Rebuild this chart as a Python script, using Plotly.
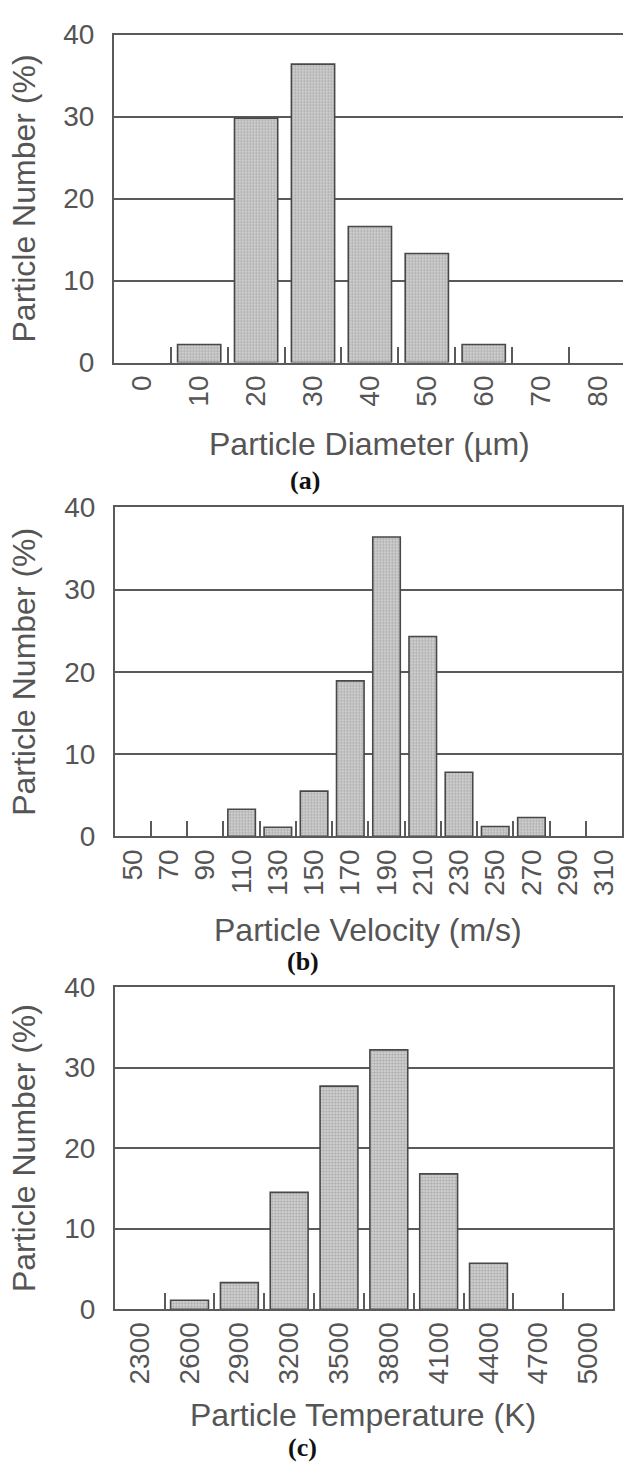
import plotly.graph_objects as go

# ---------------- data ----------------
dia_cats = ["0", "10", "20", "30", "40", "50", "60", "70", "80"]
dia_vals = [0, 2.2, 29.8, 36.4, 16.6, 13.3, 2.2, 0, 0]

vel_cats = ["50", "70", "90", "110", "130", "150", "170", "190", "210",
            "230", "250", "270", "290", "310"]
vel_vals = [0, 0, 0, 3.3, 1.1, 5.5, 18.9, 36.4, 24.3, 7.8, 1.2, 2.3, 0, 0]

temp_cats = ["2300", "2600", "2900", "3200", "3500", "3800", "4100",
             "4400", "4700", "5000"]
temp_vals = [0, 1.1, 3.3, 14.5, 27.7, 32.2, 16.8, 5.7, 0, 0]

y_ticks = [0, 10, 20, 30, 40]

x_titles = ["Particle Diameter (µm)", "Particle Velocity (m/s)",
            "Particle Temperature (K)"]
y_title = "Particle Number (%)"
panel_tags = ["(a)", "(b)", "(c)"]

# ---------------- layout geometry (pixels) ----------------
W, H = 624, 1473
SANS = "Liberation Sans, Arial, Helvetica, sans-serif"
SERIF = "Liberation Serif, Times New Roman, serif"
TXT = "#555555"
LINE = "#5a5a5a"

panels = [
    dict(cats=dia_cats, vals=dia_vals, left=114, right=624, full_right=627,
         top=20, bottom=355, mirror_y=False,
         xt=(370, 438), tag=(305, 475)),
    dict(cats=vel_cats, vals=vel_vals, left=115, right=623, full_right=623,
         top=503, bottom=839, mirror_y=True,
         xt=(369, 935), tag=(303, 967)),
    dict(cats=temp_cats, vals=temp_vals, left=115, right=614, full_right=614,
         top=993, bottom=1322, mirror_y=True,
         xt=(364, 1430), tag=(303, 1463)),
]


def px(x):
    return x / W


def py(y):
    return 1 - y / H


fig = go.Figure()
annotations = []

for i, p in enumerate(panels):
    n = len(p["cats"])
    cw = (p["full_right"] - p["left"]) / n
    hi = (n - 0.5) - (p["full_right"] - p["right"]) / cw
    xa = "x" if i == 0 else f"x{i+1}"
    ya = "y" if i == 0 else f"y{i+1}"
    outline_w = [0 if v == 0 else 1.6 for v in p["vals"]]
    fig.add_trace(go.Bar(
        x=p["cats"], y=p["vals"], xaxis=xa, yaxis=ya,
        marker=dict(
            color="#c8c8c8",
            line=dict(color="#484848", width=outline_w),
            pattern=dict(shape=".", fgcolor="#808080", bgcolor="#d9d9d9",
                         size=3, solidity=0.5),
        ),
        width=0.76,
        showlegend=False,
        hoverinfo="x+y",
    ))
    xkey = "xaxis" if i == 0 else f"xaxis{i+1}"
    ykey = "yaxis" if i == 0 else f"yaxis{i+1}"
    fig.layout[xkey] = dict(
        domain=[px(p["left"]), px(p["right"])],
        anchor=ya,
        type="category",
        range=[-0.5, hi],
        tickangle=-90,
        ticks="inside",
        tickson="boundaries",
        ticklen=16,
        tickwidth=1.5,
        tickcolor=LINE,
        showgrid=False,
        showline=True,
        linecolor=LINE,
        linewidth=1.6,
        mirror=True,
        tickfont=dict(family=SANS, size=28, color=TXT),
        fixedrange=True,
    )
    fig.layout[ykey] = dict(
        domain=[py(p["bottom"]), py(p["top"])],
        anchor=xa,
        range=[0, 40],
        tickvals=y_ticks,
        ticks="",
        showgrid=True,
        gridcolor=LINE,
        gridwidth=1.5,
        zeroline=False,
        showline=True,
        linecolor=LINE,
        linewidth=1.6,
        mirror=p["mirror_y"],
        tickfont=dict(family=SANS, size=28, color=TXT),
        ticklabelstandoff=12,
        fixedrange=True,
    )
    # y-axis title
    annotations.append(dict(
        text=y_title, textangle=-90, xref="paper", yref="paper",
        x=px(24), y=py((p["top"] + p["bottom"]) / 2),
        xanchor="center", yanchor="middle", showarrow=False,
        font=dict(family=SANS, size=32, color=TXT),
    ))
    # x-axis title
    annotations.append(dict(
        text=x_titles[i], xref="paper", yref="paper",
        x=px(p["xt"][0]), y=py(p["xt"][1]),
        xanchor="center", yanchor="middle", showarrow=False,
        font=dict(family=SANS, size=32, color=TXT),
    ))
    # panel tag
    annotations.append(dict(
        text="<b>" + panel_tags[i] + "</b>", xref="paper", yref="paper",
        x=px(p["tag"][0]), y=py(p["tag"][1]),
        xanchor="center", yanchor="middle", showarrow=False,
        font=dict(family=SERIF, size=26, color="#111111"),
    ))

fig.update_layout(
    width=W, height=H,
    margin=dict(l=0, r=0, t=0, b=0),
    paper_bgcolor="white",
    plot_bgcolor="white",
    bargap=0.24,
    annotations=annotations,
)

fig.write_html("out.html", config={"displayModeBar": False})
